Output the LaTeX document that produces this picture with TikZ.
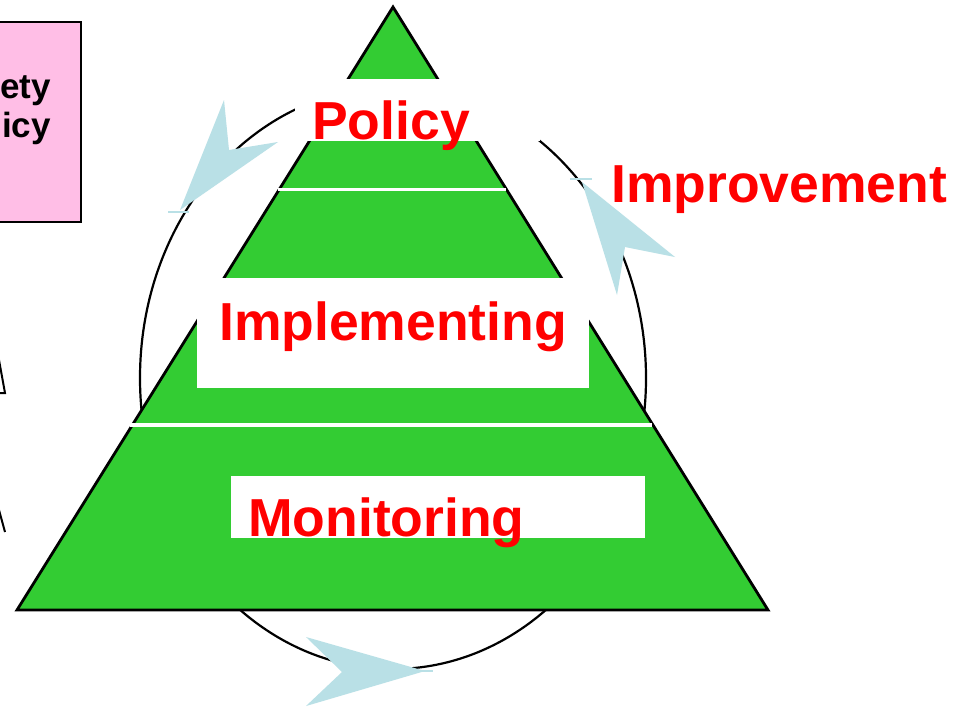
\documentclass[tikz,border=0pt]{standalone}
\usepackage{fontspec}
\setmainfont{Liberation Sans}
\definecolor{pyrgreen}{RGB}{51,204,51}
\definecolor{arrowblue}{RGB}{185,224,230}
\definecolor{boxpink}{RGB}{255,190,230}
\definecolor{txtred}{RGB}{255,0,0}
\begin{document}
\begin{tikzpicture}[x=1pt,y=-1pt,
  lbl/.style={text=txtred, font=\fontsize{53.5}{60}\selectfont\bfseries, inner sep=0pt, anchor=base west},
  blk/.style={text=black, font=\fontsize{35}{40}\selectfont\bfseries, inner sep=0pt, anchor=base east},
  whitebox/.style={fill=white, draw=none},
  dart/.style={fill=arrowblue, draw=none},
  dartline/.style={draw=arrowblue, line width=1.5pt},
  cycle line/.style={draw=black, line width=2.2pt},
  pyr/.style={fill=pyrgreen, draw=black, line width=2.8pt, line join=miter},
  sepline/.style={draw=white}
]
\useasboundingbox (0,0) rectangle (965,707);
\fill[white] (0,0) rectangle (965,707);

% cycle ellipse
\draw[cycle line] (393,378) ellipse [x radius=253, y radius=291];

% arrow heads on the cycle
\fill[dart] (180,210) -- (224,100) -- (229,150) -- (278,142) -- cycle;
\draw[dartline] (168,212) -- (189,212);
\fill[dart] (582,182) -- (617,295) -- (625,247) -- (675,257) -- cycle;
\draw[dartline] (570,179) -- (592,179);
\fill[dart] (425,671) -- (306,637) -- (342,672) -- (306,706) -- cycle;
\draw[dartline] (410,671) -- (433,671);

% pink box (cut off at left)
\draw[fill=boxpink, draw=black, line width=2pt] (-10,22) rectangle (81,222);
\node[blk] (safety) at (51,98) {ety};
\node[blk] (policyb) at (51,137) {icy};

% fragments at the left edge
\draw[black, line width=2pt] (-1,360) -- (5,393) -- (-2,393);
\draw[black, line width=2pt] (-1,510) -- (5,532);

% pyramid
\draw[pyr] (393,7) -- (768,610) -- (17,610) -- cycle;

% white bands and boxes
\fill[whitebox] (295,79) rectangle (540,141);
\draw[sepline, line width=3pt] (278,189) -- (506,189);
\draw[sepline, line width=4pt] (130,425) -- (652,425);
\fill[whitebox] (197,278) rectangle (589,388);
\fill[whitebox] (231,476) rectangle (645,538);

% labels
\node[lbl] (policy) at (312,139) {Policy};
\node[lbl] (impl) at (219,340) {Implementing};
\node[lbl] (mon) at (248,536) {Monitoring};
\node[lbl] (impr) at (611,202) {Improvement};
\end{tikzpicture}
\end{document}
